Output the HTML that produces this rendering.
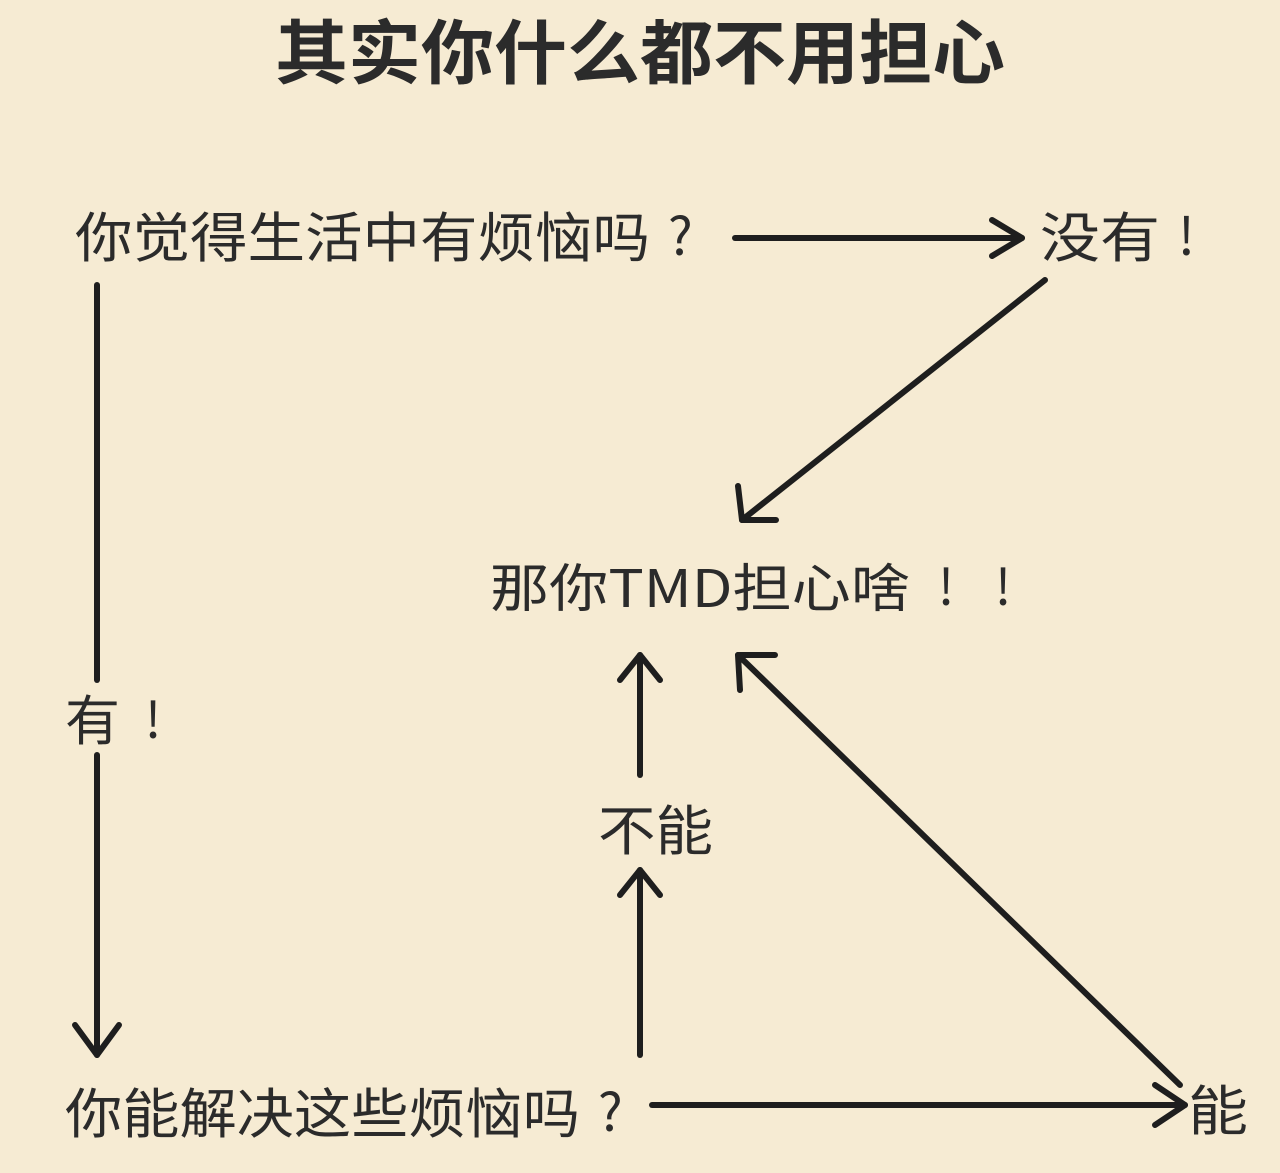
<!DOCTYPE html>
<html><head><meta charset="utf-8"><style>
html,body{margin:0;padding:0;background:#f6ebd3;}
svg{display:block}
text{font-family:"Noto Sans CJK SC","Liberation Sans",sans-serif;fill:#2b2b2b;}
</style></head><body>
<svg width="1280" height="1173" viewBox="0 0 1280 1173" xmlns="http://www.w3.org/2000/svg">
<rect width="1280" height="1173" fill="#f6ebd3"/>
<g stroke="#1e1e1e" stroke-width="6" fill="none" stroke-linecap="round" stroke-linejoin="round">
<line x1="735" y1="238" x2="1022" y2="238"/>
<polyline points="992,220 1022,238 992,256"/>
<line x1="1045" y1="280" x2="742" y2="520"/>
<polyline points="738,486 742,520 776,520"/>
<line x1="97" y1="285" x2="97" y2="680"/>
<line x1="97" y1="755" x2="97" y2="1055"/>
<polyline points="75,1025 97,1055 119,1025"/>
<line x1="652" y1="1105" x2="1185" y2="1105"/>
<polyline points="1155,1085 1185,1105 1155,1125"/>
<line x1="640" y1="1055" x2="640" y2="870"/>
<polyline points="620,895 640,870 660,895"/>
<line x1="640" y1="775" x2="640" y2="655"/>
<polyline points="620,680 640,655 660,680"/>
<line x1="1180" y1="1085" x2="738" y2="655"/>
<polyline points="740,690 738,655 775,655"/>
</g>
<text x="640" y="78" font-size="70" font-weight="bold" text-anchor="middle" textLength="730" lengthAdjust="spacingAndGlyphs">其实你什么都不用担心</text>
<text x="75" y="257" font-size="54" textLength="575" lengthAdjust="spacingAndGlyphs">你觉得生活中有烦恼吗</text>
<text x="668" y="255" font-size="52">?</text>
<text x="1040" y="257" font-size="54" textLength="120" lengthAdjust="spacingAndGlyphs">没有</text>
<text x="1178" y="255" font-size="52">!</text>
<text x="490" y="607" font-size="52" textLength="420" lengthAdjust="spacingAndGlyphs">那你TMD担心啥</text>
<text x="938" y="605" font-size="50">!</text>
<text x="995" y="605" font-size="50">!</text>
<text x="65" y="740" font-size="54" textLength="55" lengthAdjust="spacingAndGlyphs">有</text>
<text x="145" y="738" font-size="50">!</text>
<text x="598" y="850" font-size="54" textLength="115" lengthAdjust="spacingAndGlyphs">不能</text>
<text x="65" y="1133" font-size="54" textLength="515" lengthAdjust="spacingAndGlyphs">你能解决这些烦恼吗</text>
<text x="598" y="1131" font-size="52">?</text>
<text x="1188" y="1130" font-size="54" textLength="60" lengthAdjust="spacingAndGlyphs">能</text>
</svg>
</body></html>
